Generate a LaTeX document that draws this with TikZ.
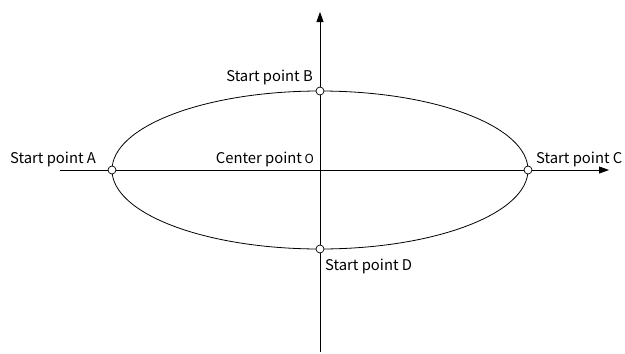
\documentclass[tikz,border=0pt]{standalone}
\usepackage{fontspec}
\setmainfont{Noto Sans CJK SC}
\usetikzlibrary{arrows.meta}
\begin{document}
\begin{tikzpicture}[x=1pt,y=-1pt,
  axis/.style={line width=0.8pt,-{Triangle[length=10pt,width=7pt]}},
  curve/.style={line width=0.8pt},
  pt/.style={circle,draw,fill=white,line width=0.7pt,inner sep=0pt,minimum size=8pt},
  lbl/.style={font=\fontsize{14.8}{17}\selectfont,inner sep=0pt}]
\useasboundingbox (0,0) rectangle (625,354);
\coordinate (O) at (320,170);
\coordinate (xl) at (60,170);
\coordinate (xr) at (609,170);
\coordinate (yb) at (320,352);
\coordinate (yt) at (320,12);
\draw[axis] (xl) -- (xr);
\draw[axis] (yb) -- (yt);
\draw[curve] (O) ellipse [x radius=208, y radius=79];
\node[pt] (A) at (112,170) {};
\node[pt] (C) at (528,170) {};
\node[pt] (B) at (320,91) {};
\node[pt] (D) at (320,249) {};
\node[lbl,anchor=base west] (la) at (10,163) {Start point A};
\node[lbl,anchor=base east] (lo) at (314,163) {Center point\,{\fontsize{12.5}{13}\selectfont O}};
\node[lbl,anchor=base west] (lc) at (536,163) {Start point C};
\node[lbl,anchor=base east] (lb) at (313,81) {Start point B};
\node[lbl,anchor=base west] (ld) at (325,270) {Start point D};
\end{tikzpicture}
\end{document}
